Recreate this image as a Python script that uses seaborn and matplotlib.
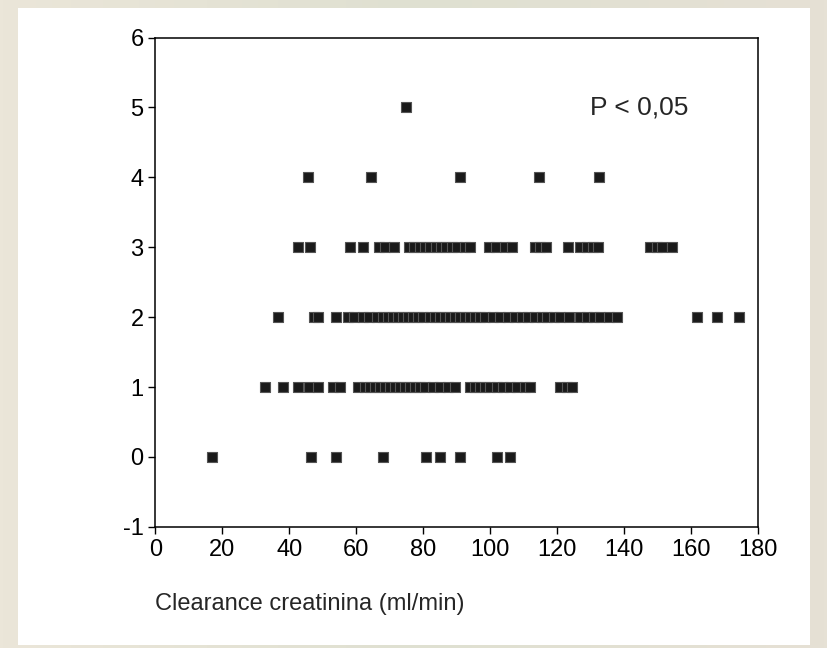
#%%
import numpy as np
import pandas as pd
import matplotlib
matplotlib.use('Agg')
import matplotlib.pyplot as plt
from matplotlib.patches import Rectangle
from matplotlib.colors import LinearSegmentedColormap
import seaborn as sns

# clearance values per score level
x_y0 = [17, 46.5, 54, 68, 81, 85, 91, 102, 106]
x_y1 = [32.6, 38, 42.6, 46, 48.6, 53, 55.3, 60.5, 62.5, 64, 65.5, 67, 68.5, 70,
        71.5, 73, 74.5, 76, 77.5, 79, 80.5, 83, 85, 87.5, 89.5, 94, 95.5, 97,
        98.5, 100, 102, 104, 106, 108, 110.5, 112, 121, 123, 124.5]
x_y2 = [36.6, 47.3, 48.6, 54, 57.6, 59.3, 62, 63.8, 66.2, 68, 69.5, 71, 72.5, 74,
        75.5, 77, 78.5, 80, 82, 83.5, 85, 86.5, 88, 89.5, 91, 92.5, 94, 95.5, 97,
        98.5, 101, 103, 105.5, 107.5, 109.5, 111.5, 113.5, 115.5, 117, 119, 121,
        123.5, 127, 129, 131, 133, 135.5, 138, 162, 168, 174.5]
x_y3 = [42.6, 46.1, 58.1, 62.1, 66.8, 68.5, 71.2, 75.8, 77.4, 79, 80.6, 82.2,
        83.8, 85.4, 87, 88.6, 90.1, 92.5, 94, 99.7, 101.9, 104.4, 106.7, 113.4,
        115.1, 116.7, 123.3, 127, 129, 130.8, 132.3, 148, 149.8, 151.5, 154.5]
x_y4 = [45.7, 64.4, 91, 114.7, 132.7]
x_y5 = [75]

levels = [0, 1, 2, 3, 4, 5]
xticks = [0, 20, 40, 60, 80, 100, 120, 140, 160, 180]
yticks = [-1, 0, 1, 2, 3, 4, 5, 6]

df = pd.concat([pd.DataFrame({'clearance': xs, 'score': lv})
                for xs, lv in zip([x_y0, x_y1, x_y2, x_y3, x_y4, x_y5], levels)])

# %%
sns.set_style('white')
plt.rcParams['font.family'] = ['Liberation Sans', 'DejaVu Sans']
plt.rcParams['axes.unicode_minus'] = False

fig = plt.figure(figsize=(8.27, 6.48), dpi=100)

# beige frame with a soft gradient, white panel on top
bg = fig.add_axes([0, 0, 1, 1], zorder=-10)
bg_cmap = LinearSegmentedColormap.from_list('frame', ['#ebe6d9', '#dfe0d1', '#e6e1d5'])
bg.imshow(np.linspace(0, 1, 256)[None, :], aspect='auto', cmap=bg_cmap,
          extent=[0, 1, 0, 1])
bg.add_patch(Rectangle((0.022, 0.005), 0.958, 0.982, facecolor='white',
                       edgecolor='none'))
bg.set_xlim(0, 1)
bg.set_ylim(0, 1)
bg.axis('off')

ax = fig.add_axes([0.188, 0.187, 0.728, 0.755])
ax.set_facecolor('white')

sns.scatterplot(data=df, x='clearance', y='score', ax=ax, marker='s', s=48,
                color='#1a1a1a', edgecolor='#555555', linewidth=0.8, legend=False)

ax.set_xlim(0, 180)
ax.set_ylim(-1, 6)
ax.set_xticks(xticks)
ax.set_yticks(yticks)
ax.tick_params(direction='out', length=5, width=1, labelsize=17, colors='black',
               bottom=True, left=True)
for sp in ax.spines.values():
    sp.set_visible(True)
    sp.set_color('black')
    sp.set_linewidth(1.1)

ax.set_ylabel('')
ax.set_xlabel('Clearance creatinina (ml/min)', fontsize=17, loc='left', labelpad=23)
ax.text(130, 5, 'P < 0,05', fontsize=19, va='center', ha='left')

fig.savefig('out.png', dpi=100)
